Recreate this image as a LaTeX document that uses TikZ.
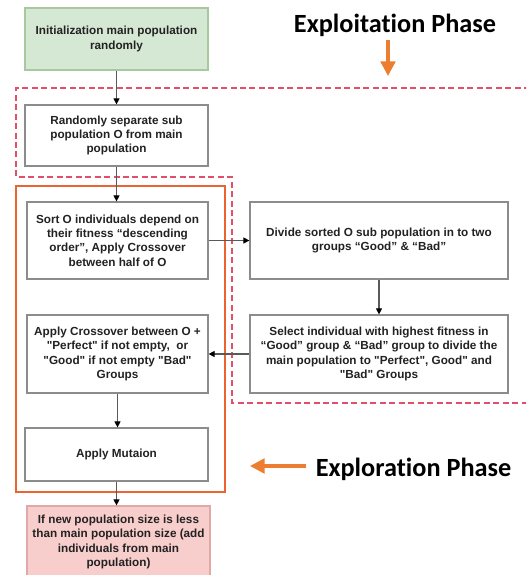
\documentclass[tikz,border=0pt]{standalone}
\usepackage{fontspec}
\newfontfamily\boxfont{Liberation Sans}
\newfontfamily\phasefont{Carlito}[Ligatures=NoCommon]
\usetikzlibrary{arrows.meta}
\definecolor{boxline}{HTML}{8C8C8C}
\definecolor{txt}{HTML}{222222}
\definecolor{flowgray}{HTML}{5A5A5A}
\definecolor{greenfill}{HTML}{D5E8D4}
\definecolor{greenline}{HTML}{A8C8A0}
\definecolor{pinkfill}{HTML}{F8CECC}
\definecolor{pinkline}{HTML}{E0A8A6}
\definecolor{dashred}{HTML}{E0506A}
\definecolor{frameorange}{HTML}{EA6331}
\definecolor{arroworange}{HTML}{ED7D31}
\tikzset{
  box/.style={draw=boxline, line width=0.9pt, fill=white, align=center, inner sep=0pt,
    text=txt, font=\boxfont\bfseries\fontsize{8.8pt}{10.7pt}\selectfont},
  flow/.style={draw=flowgray, line width=0.8pt, -{Triangle[length=4.5pt,width=4.5pt,color=black]}},
  phase/.style={font=\phasefont\bfseries\fontsize{19.7pt}{22pt}\selectfont, text=black, inner sep=0pt, anchor=base},
  bigarrow/.style={draw=arroworange, line width=2.4pt, -{Triangle[length=11pt,width=11pt]}},
}
\begin{document}
\begin{tikzpicture}[x=0.75pt,y=-0.75pt]
\useasboundingbox (0,0) rectangle (526,575);
\clip (0,0) rectangle (526,575);
\fill[white] (0,0) rectangle (526,575);

% exploitation dashed region
\draw[dashred, line width=1.4pt, dash pattern=on 4.5pt off 2.6pt]
  (530,88) -- (16,88) -- (16,177) -- (232,177) -- (232,403) -- (530,403);
% exploration frame
\draw[frameorange, line width=1.6pt] (16,186) rectangle (225,492);

% boxes
\node[box, draw=greenline, fill=greenfill, minimum width={183*0.75pt}, minimum height={62*0.75pt}]
  (init) at (116.5,39) {Initialization main population\\randomly};
\node[box, minimum width={183*0.75pt}, minimum height={61*0.75pt}]
  (rand) at (116.5,135.5) {Randomly separate sub\\population O from main\\population};
\node[box, minimum width={181*0.75pt}, minimum height={77*0.75pt}]
  (sort) at (117.5,240.5) {Sort O individuals depend on\\their fitness “descending\\order”, Apply Crossover\\between half of O};
\node[box, minimum width={258*0.75pt}, minimum height={77*0.75pt}]
  (divide) at (379,240.5) {Divide sorted O sub population in to two\\groups “Good” \& “Bad”};
\node[box, minimum width={181*0.75pt}, minimum height={78*0.75pt}]
  (cross) at (117.5,354) {Apply Crossover between O +\\"Perfect" if not empty,\ \ or\\"Good" if not empty "Bad"\\Groups};
\node[box, minimum width={258*0.75pt}, minimum height={78*0.75pt}]
  (select) at (379,354) {Select individual with highest fitness in\\“Good” group \& “Bad” group to divide the\\main population to "Perfect", Good" and\\"Bad" Groups};
\node[box, minimum width={183*0.75pt}, minimum height={53*0.75pt}]
  (mut) at (116.5,454.5) {Apply Mutaion};
\node[box, draw=pinkline, fill=pinkfill, minimum width={183*0.75pt}, minimum height={72*0.75pt}]
  (pink) at (118.5,542) {If new population size is less\\than main population size (add\\individuals from main\\population)};

% connectors
\draw[flow] (init.south) -- (rand.north);
\draw[flow] (rand.south) -- (rand.south |- sort.north);
\draw[flow] (sort.east) -- (divide.west);
\draw[flow] (divide.south) -- (select.north);
\draw[flow] (select.west) -- (cross.east);
\draw[flow] (cross.south) -- (cross.south |- mut.north);
\draw[flow] (mut.south) -- (mut.south |- pink.north);

% phase labels
\node[phase] (exploit) at (395,32.5) {Exploitation Phase};
\coordinate (exploitA) at (388,40);
\coordinate (exploitB) at (388,76);
\draw[bigarrow] (exploitA) -- (exploitB);
\node[phase] (explore) at (413.5,476) {Exploration Phase};
\coordinate (exploreA) at (306,466);
\coordinate (exploreB) at (250,466);
\draw[bigarrow] (exploreA) -- (exploreB);
\end{tikzpicture}
\end{document}
